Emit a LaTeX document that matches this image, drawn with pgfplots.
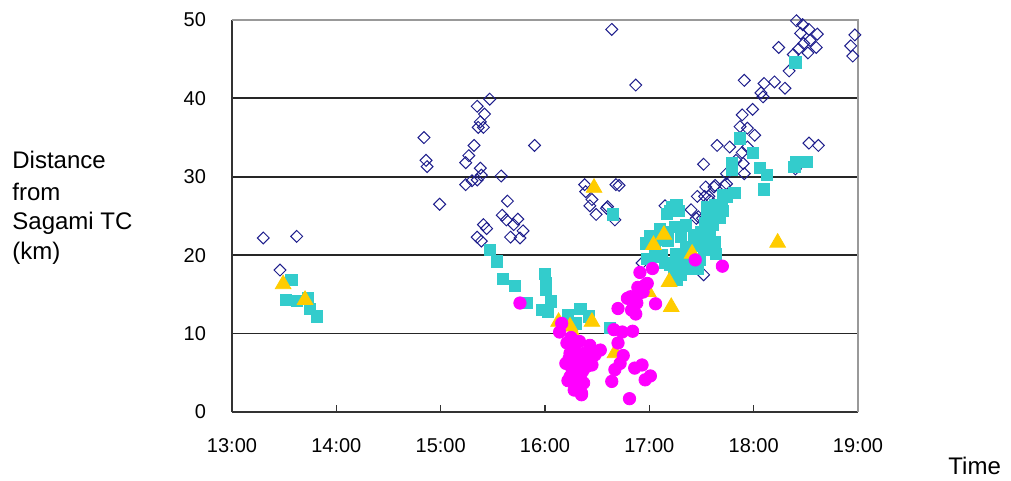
\documentclass[border=0pt]{standalone}
\usepackage{pgfplots}
\pgfplotsset{compat=1.18}
\usepackage{fontspec}
\setmainfont{Liberation Sans}
\definecolor{navyd}{RGB}{30,30,140}
\definecolor{cyanm}{RGB}{51,204,204}
\definecolor{yellowm}{RGB}{255,204,0}
\definecolor{magm}{RGB}{255,0,255}
\begin{document}
\begin{tikzpicture}
\path[use as bounding box] (-116pt,-34.5pt) rectangle (389.5pt,206pt);
\begin{axis}[
  at={(0,0)}, anchor=south west,
  width=313pt, height=196pt, scale only axis,
  xmin=13, xmax=19, ymin=0, ymax=50,
  xtick={13,14,15,16,17,18,19},
  xticklabels={13:00,14:00,15:00,16:00,17:00,18:00,19:00},
  ytick={0,10,20,30,40,50},
  yticklabels={0,10,20,30,40,50},
  axis x line*=bottom, axis y line*=left,
  axis line style={black!80, line width=0.8pt},
  tick align=inside, major tick length=3.5pt,
  xtick style={black!80, line width=0.7pt},
  ytick style={draw=none},
  ymajorgrids, grid style={black!85, line width=0.9pt},
  xticklabel style={font=\fontsize{10}{12}\selectfont, yshift=-9.5pt},
  yticklabel style={font=\fontsize{10}{12}\selectfont, xshift=-9.5pt},
  clip=false,
]
\addplot[only marks, mark=square, mark size=2.1pt,
  mark options={rotate=45, draw=navyd, line width=0.5pt, fill=none}] coordinates {
(13.30,22.2) (13.62,22.4) (13.46,18.1)
(14.84,35.0) (14.86,32.1) (14.87,31.3) (14.99,26.5)
(15.47,39.9) (15.35,39.0) (15.42,38.0) (15.38,37.0) (15.36,36.3) (15.41,36.3)
(15.32,34.0) (15.27,32.7) (15.24,31.8) (15.38,31.1) (15.39,30.2) (15.35,29.6)
(15.30,29.5) (15.24,29.0) (15.58,30.1) (15.90,34.0) (15.64,26.9) (15.59,25.1)
(15.63,24.5) (15.74,24.6) (15.70,23.9) (15.79,23.1) (15.67,22.3) (15.76,22.2)
(15.41,23.9) (15.44,23.4) (15.35,22.3) (15.39,21.8)
(16.64,48.8) (16.38,29.0) (16.39,28.1) (16.45,27.1) (16.43,26.3) (16.49,25.2)
(16.60,26.2) (16.68,29.0) (16.67,24.5) (16.87,41.7)
(18.41,49.9) (18.47,49.4) (18.53,48.8) (18.45,48.3) (18.61,48.2) (18.54,47.4)
(18.48,47.0) (18.43,46.3) (18.60,46.5) (18.52,45.8) (18.24,46.5) (18.38,45.6)
(18.34,43.5) (18.97,48.1) (18.93,46.7) (18.95,45.4)
(17.91,42.3) (18.10,41.9) (18.20,42.1) (18.30,41.3) (18.07,40.7) (18.09,40.2)
(17.99,38.6) (17.89,37.9) (17.87,36.4) (17.94,36.2) (18.01,35.3)
(17.65,34.0) (17.77,33.8) (17.89,33.1) (17.94,33.8) (18.53,34.3) (18.62,34.0)
(17.52,31.6) (17.90,31.7) (17.74,30.4) (17.91,30.4) (17.83,32.1)
(16.71,28.9) (17.54,28.7) (17.62,28.7) (17.74,29.1) (17.46,27.5) (17.53,27.5)
(17.40,25.8) (17.15,26.3) (16.59,26.0) (17.47,24.9) (17.45,24.7) (17.52,23.4)
(16.93,19.0) (17.52,17.5) (17.63,28.9) (17.72,28.9) (17.57,27.5) (17.51,24.7)
(18.40,31.0) (17.26,26.2) (17.58,27.0)
};
\addplot[only marks, mark=square*, mark size=2.8pt,
  mark options={draw=cyanm, fill=cyanm}] coordinates {
(13.57,16.8) (13.52,14.3) (13.62,14.2) (13.73,14.5) (13.75,13.2) (13.81,12.2)
(15.47,20.7) (15.54,19.2) (15.60,17.0) (15.71,16.1) (16.00,17.6) (16.01,16.4)
(16.01,15.6) (16.06,14.1) (15.97,13.0) (15.83,13.9) (16.03,12.8) (16.22,12.4)
(16.34,13.2) (16.42,12.2) (16.30,11.3) (16.62,10.7) (16.65,25.2)
(17.22,26.1) (17.28,25.6) (17.17,25.3) (17.58,25.3) (17.63,26.4) (17.71,27.7)
(17.81,27.9) (17.55,24.1) (17.61,24.1) (17.10,23.4) (17.25,23.6) (17.01,22.4)
(16.97,21.5) (17.18,21.9) (17.30,22.4) (17.43,22.6) (17.52,21.9) (17.61,21.7)
(17.26,20.2) (17.37,20.4) (17.48,19.4) (17.64,20.2) (17.15,19.0) (17.24,18.3)
(17.35,18.5) (17.46,18.3) (17.26,16.8) (17.30,17.5)
(17.87,34.9) (17.99,33.0) (17.79,31.7) (17.79,30.9) (18.06,31.1) (18.13,30.2)
(18.10,28.4) (18.41,31.9) (18.51,31.9) (18.39,31.3) (17.82,27.9) (17.74,27.5)
(17.69,26.2) (17.55,26.2) (17.26,26.4) (17.20,25.6) (17.55,25.1) (17.61,23.9)
(17.53,24.1) (17.44,22.6) (17.63,21.7) (17.52,20.7) (17.39,18.3) (18.40,44.6)
(17.05,21.0) (17.12,20.0) (17.35,21.0)
(17.08,22.0) (17.18,23.0) (17.35,23.8) (17.40,20.0) (17.50,23.0) (17.45,21.2)
(17.68,24.8) (17.70,25.6) (17.58,22.5) (17.20,18.8) (17.30,19.3) (17.05,19.8)
(16.98,19.5)
};
\addplot[only marks, mark=triangle*, mark size=4.5pt,
  mark options={draw=yellowm, fill=yellowm}] coordinates {
(13.49,16.3) (13.70,14.3) (16.47,28.6) (16.13,11.5) (16.24,10.9) (16.27,10.0)
(16.45,11.5) (16.67,7.5) (16.26,7.1) (16.99,15.3) (17.04,21.3) (17.14,22.6)
(17.19,16.6) (17.21,13.4) (17.41,20.2) (18.23,21.6)
};
\addplot[only marks, mark=*, mark size=3.1pt,
  mark options={draw=magm, fill=magm}] coordinates {
(15.76,13.9) (16.16,11.3) (16.14,10.2) (16.21,8.8) (16.24,7.5) (16.43,8.5)
(16.53,7.9) (16.27,6.4) (16.35,6.6) (16.42,6.8) (16.48,7.3) (16.26,5.4)
(16.32,5.6) (16.40,5.8) (16.24,4.5) (16.34,4.3) (16.29,3.4) (16.35,2.4)
(16.35,2.2) (16.30,4.0) (16.37,3.7) (16.66,10.5) (16.74,10.2) (16.84,10.3)
(16.70,8.8) (16.72,6.2) (16.67,5.4) (16.64,3.9) (16.93,6.0) (16.86,5.6)
(17.01,4.6) (16.96,4.1) (16.81,1.7) (16.70,13.2) (16.83,13.0) (16.79,14.5)
(16.91,15.6) (16.96,16.2) (16.91,17.8) (17.03,18.3) (17.06,13.8) (17.44,19.4)
(17.70,18.6) (16.82,14.7) (16.88,13.9) (16.94,15.3) (16.89,15.9) (16.98,16.4)
(16.25,9.5) (16.38,7.5) (16.30,7.0) (16.45,6.0)
(16.20,6.2) (16.22,4.0) (16.28,8.0) (16.33,9.0) (16.23,6.8) (16.31,5.0)
(16.36,5.2) (16.28,2.8) (16.75,7.2) (16.88,14.8) (16.87,12.5)
};
\draw[black!40, line width=0.9pt] (rel axis cs:0,1) -- (rel axis cs:1,1) -- (rel axis cs:1,0);
\end{axis}
\begin{scope}[every node/.style={inner sep=0pt, anchor=base west, font=\fontsize{12}{15}\selectfont}]
\node at (-110pt,121.5pt) {Distance};
\node at (-110pt,105.5pt) {from};
\node at (-110pt,91pt) {Sagami TC};
\node at (-110pt,76pt) {(km)};
\node at (358pt,-31.5pt) {Time};
\end{scope}
\end{tikzpicture}
\end{document}
